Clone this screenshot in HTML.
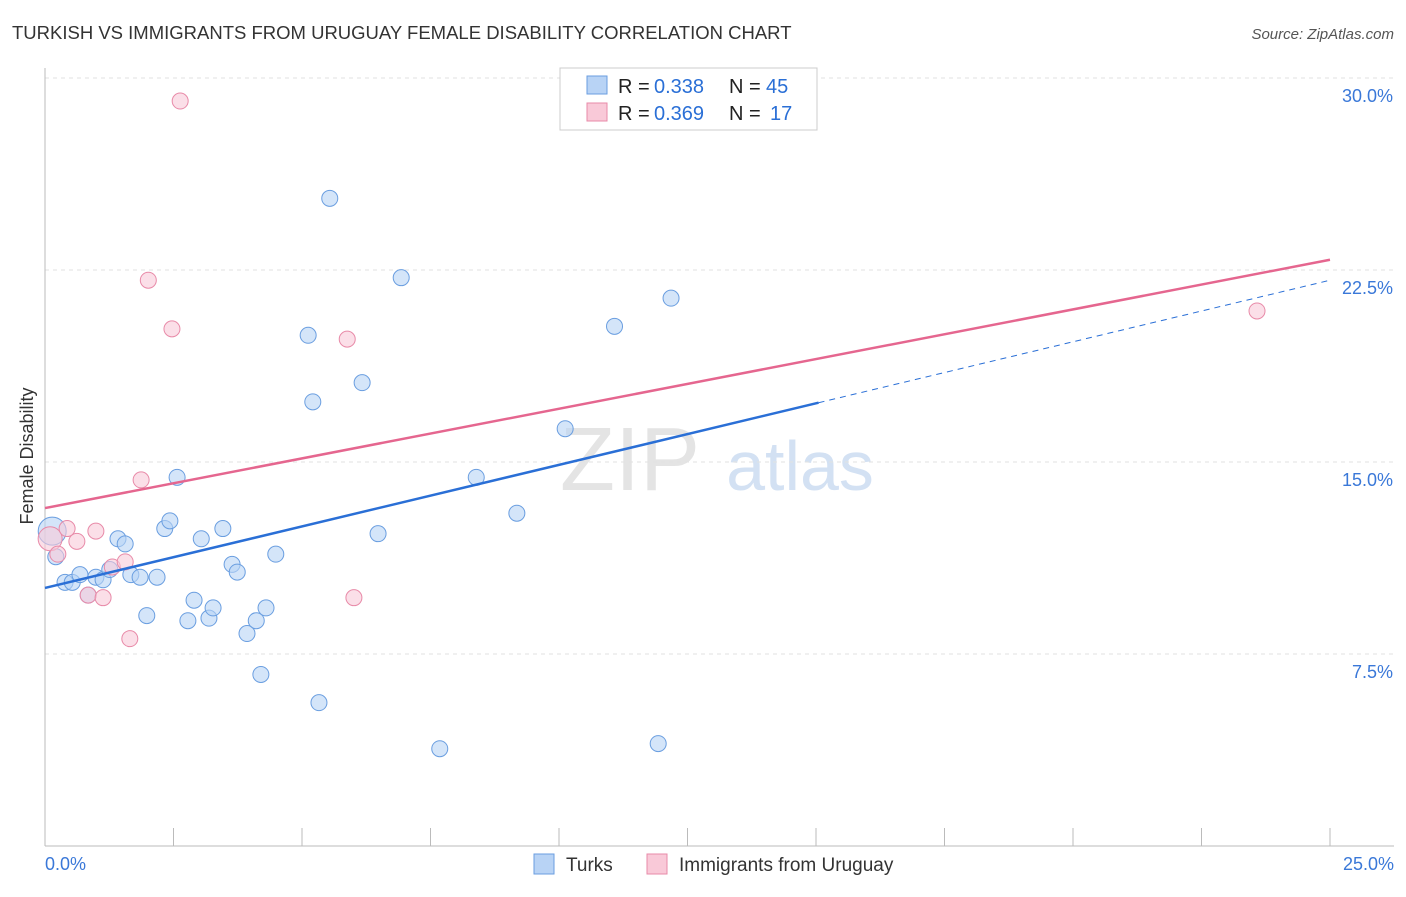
<!DOCTYPE html>
<html><head><meta charset="utf-8"><style>
body{margin:0;background:#fff;font-family:"Liberation Sans",sans-serif;}
svg text{font-family:"Liberation Sans",sans-serif;}
</style></head><body>
<svg id="chart" width="1406" height="892">
<text x="12" y="39" font-size="18.5" fill="#333">TURKISH VS IMMIGRANTS FROM URUGUAY FEMALE DISABILITY CORRELATION CHART</text>
<text x="1394" y="39" font-size="15" fill="#555" font-style="italic" text-anchor="end">Source: ZipAtlas.com</text>
<text x="33" y="456" font-size="18" fill="#333" transform="rotate(-90 33 456)" text-anchor="middle">Female Disability</text>
<text x="630" y="490" font-size="90" fill="#e4e4e4" font-family="Liberation Serif" text-anchor="middle">ZIP</text>
<text x="800" y="490" font-size="70" fill="#d3e1f3" text-anchor="middle">atlas</text>
<g id="grid"></g><g id="axes"></g><g id="marks"></g>
<g>
<rect x="560" y="68" width="257" height="62" fill="#fff" stroke="#ccc"/>
<rect x="587" y="76" width="20" height="18" fill="#b8d3f5" stroke="#6a9ee0"/>
<text x="618" y="93" font-size="20" fill="#222">R = </text>
<text x="654" y="93" font-size="20" fill="#2a6fd6">0.338</text>
<text x="729" y="93" font-size="20" fill="#222">N = </text>
<text x="766" y="93" font-size="20" fill="#2a6fd6">45</text>
<rect x="587" y="103" width="20" height="18" fill="#f9c9d8" stroke="#e88aa8"/>
<text x="618" y="120" font-size="20" fill="#222">R = </text>
<text x="654" y="120" font-size="20" fill="#2a6fd6">0.369</text>
<text x="729" y="120" font-size="20" fill="#222">N = </text>
<text x="770" y="120" font-size="20" fill="#2a6fd6">17</text>
</g>
<g>
<rect x="534" y="854" width="20" height="20" fill="#b8d3f5" stroke="#6a9ee0"/>
<text x="566" y="871" font-size="19" fill="#333">Turks</text>
<rect x="647" y="854" width="20" height="20" fill="#f9c9d8" stroke="#e88aa8"/>
<text x="679" y="871" font-size="19" fill="#333">Immigrants from Uruguay</text>
</g>
</svg>
<script>
const yTicks=[7.5,15,22.5,30];
const yTickLabels=["7.5%","15.0%","22.5%","30.0%"];
const xTicks=[0,2.5,5,7.5,10,12.5,15,17.5,20,22.5,25];
const turksX=[0.14,0.21,0.39,0.53,0.68,0.84,0.99,1.13,1.26,1.42,1.56,1.67,1.85,1.98,2.18,2.33,2.43,2.57,2.78,2.90,3.04,3.19,3.27,3.46,3.64,3.74,3.93,4.11,4.20,4.30,4.49,5.12,5.21,5.33,5.54,6.17,6.48,6.93,7.68,8.39,9.18,10.12,11.08,11.93,12.18];
const turksY=[12.3,11.3,10.3,10.3,10.6,9.8,10.5,10.4,10.8,12.0,11.8,10.6,10.5,9.0,10.5,12.4,12.7,14.4,8.8,9.6,12.0,8.9,9.3,12.4,11.0,10.7,8.3,8.8,6.7,9.3,11.4,19.95,17.35,5.6,25.3,18.1,12.2,22.2,3.8,14.4,13.0,16.3,20.3,4.0,21.4];
const uruX=[0.10,0.25,0.43,0.62,0.84,0.99,1.13,1.31,1.56,1.65,1.87,2.01,2.47,2.63,5.88,6.01,23.58];
const uruY=[12.0,11.4,12.4,11.9,9.8,12.3,9.7,10.9,11.1,8.1,14.3,22.1,20.2,29.1,19.8,9.7,20.9];
const trendBlue=[10.08,22.1], trendPink=[13.2,22.9], blueSolidEnd=15.05;
const NS='http://www.w3.org/2000/svg';
const X=v=>45+v*51.4, Y=v=>846-v*25.6;
function mk(t,a,p){const e=document.createElementNS(NS,t);for(const k in a)e.setAttribute(k,a[k]);p.appendChild(e);return e;}
const grid=document.getElementById('grid'),axes=document.getElementById('axes'),marks=document.getElementById('marks');
yTicks.forEach((t,i)=>{
 const l=mk('line',{x1:45,x2:1394,y1:Y(t),y2:Y(t),stroke:'#e2e2e2','stroke-dasharray':'4,4'},grid);
 
 
 const tx=mk('text',{x:1393,y:Y(t)+24,'font-size':18,fill:'#3a78d8','text-anchor':'end'},axes);
 tx.textContent=yTickLabels[i];
 
 
});
mk('line',{x1:45,x2:45,y1:68,y2:846,stroke:'#bbb'},axes);
mk('line',{x1:45,x2:1394,y1:846,y2:846,stroke:'#bbb'},axes);
xTicks.forEach(t=>{const l=mk('line',{x1:X(t),x2:X(t),y1:828,y2:846,stroke:'#bbb'},axes);
 
 });
let t0=mk('text',{x:45,y:870,'font-size':18,fill:'#3a78d8'},axes);t0.textContent='0.0%';


let t1=mk('text',{x:1394,y:870,'font-size':18,fill:'#3a78d8','text-anchor':'end'},axes);t1.textContent='25.0%';


function dot(x,y,r,f,s,n){const c=mk('circle',{cx:X(x),cy:Y(y),r:r,fill:f,stroke:s,'stroke-width':1,'fill-opacity':0.6},marks);
 
 }
turksX.forEach((x,i)=>dot(x,turksY[i],i===0?14:8,'#b8d3f5','#6a9ee0','turks-point'));
uruX.forEach((x,i)=>dot(x,uruY[i],i===0?12:8,'#f9c9d8','#e88aa8','uruguay-point'));
const by=x=>trendBlue[0]+(trendBlue[1]-trendBlue[0])*x/25;
let b1=mk('line',{x1:X(0),y1:Y(by(0)),x2:X(blueSolidEnd),y2:Y(by(blueSolidEnd)),stroke:'#2a6fd6','stroke-width':2.5},marks);


let b2=mk('line',{x1:X(blueSolidEnd),y1:Y(by(blueSolidEnd)),x2:X(25),y2:Y(by(25)),stroke:'#2a6fd6','stroke-width':1,'stroke-dasharray':'6,5'},marks);


let p1=mk('line',{x1:X(0),y1:Y(trendPink[0]),x2:X(25),y2:Y(trendPink[1]),stroke:'#e5668f','stroke-width':2.5},marks);


</script>
</body></html>
